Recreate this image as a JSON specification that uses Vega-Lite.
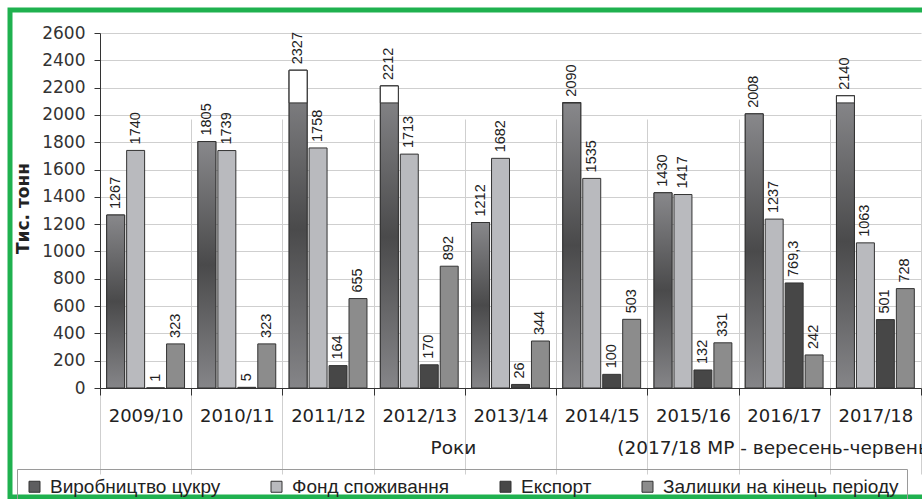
{
  "$schema": "https://vega.github.io/schema/vega-lite/v6.json",
  "autosize": "none",
  "width": 916,
  "height": 487,
  "padding": {"left": 10, "top": 10, "right": -4, "bottom": 2},
  "background": "white",
  "config": {
    "view": {"stroke": "#1fb14f", "strokeWidth": 5, "fill": "white"},
    "locale": {"number": {"decimal": ",", "thousands": " ", "grouping": [3], "currency": ["", ""]}}
  },
  "data": {
    "values": [
      {"year": "2009/10", "series": "Виробництво цукру", "value": 1267},
      {"year": "2009/10", "series": "Фонд споживання", "value": 1740},
      {"year": "2009/10", "series": "Експорт", "value": 1},
      {"year": "2009/10", "series": "Залишки на кінець періоду", "value": 323},
      {"year": "2010/11", "series": "Виробництво цукру", "value": 1805},
      {"year": "2010/11", "series": "Фонд споживання", "value": 1739},
      {"year": "2010/11", "series": "Експорт", "value": 5},
      {"year": "2010/11", "series": "Залишки на кінець періоду", "value": 323},
      {"year": "2011/12", "series": "Виробництво цукру", "value": 2327},
      {"year": "2011/12", "series": "Фонд споживання", "value": 1758},
      {"year": "2011/12", "series": "Експорт", "value": 164},
      {"year": "2011/12", "series": "Залишки на кінець періоду", "value": 655},
      {"year": "2012/13", "series": "Виробництво цукру", "value": 2212},
      {"year": "2012/13", "series": "Фонд споживання", "value": 1713},
      {"year": "2012/13", "series": "Експорт", "value": 170},
      {"year": "2012/13", "series": "Залишки на кінець періоду", "value": 892},
      {"year": "2013/14", "series": "Виробництво цукру", "value": 1212},
      {"year": "2013/14", "series": "Фонд споживання", "value": 1682},
      {"year": "2013/14", "series": "Експорт", "value": 26},
      {"year": "2013/14", "series": "Залишки на кінець періоду", "value": 344},
      {"year": "2014/15", "series": "Виробництво цукру", "value": 2090},
      {"year": "2014/15", "series": "Фонд споживання", "value": 1535},
      {"year": "2014/15", "series": "Експорт", "value": 100},
      {"year": "2014/15", "series": "Залишки на кінець періоду", "value": 503},
      {"year": "2015/16", "series": "Виробництво цукру", "value": 1430},
      {"year": "2015/16", "series": "Фонд споживання", "value": 1417},
      {"year": "2015/16", "series": "Експорт", "value": 132},
      {"year": "2015/16", "series": "Залишки на кінець періоду", "value": 331},
      {"year": "2016/17", "series": "Виробництво цукру", "value": 2008},
      {"year": "2016/17", "series": "Фонд споживання", "value": 1237},
      {"year": "2016/17", "series": "Експорт", "value": 769.3},
      {"year": "2016/17", "series": "Залишки на кінець періоду", "value": 242},
      {"year": "2017/18", "series": "Виробництво цукру", "value": 2140},
      {"year": "2017/18", "series": "Фонд споживання", "value": 1063},
      {"year": "2017/18", "series": "Експорт", "value": 501},
      {"year": "2017/18", "series": "Залишки на кінець періоду", "value": 728}
    ]
  },
  "encoding": {
    "x": {
      "field": "year", "type": "nominal", "sort": null,
      "scale": {"type": "band", "paddingInner": 0, "paddingOuter": 0, "range": [90, 911]},
      "axis": {
        "title": "Роки\u00a0\u00a0\u00a0\u00a0\u00a0\u00a0\u00a0\u00a0\u00a0\u00a0\u00a0\u00a0\u00a0\u00a0\u00a0\u00a0\u00a0\u00a0\u00a0\u00a0\u00a0\u00a0\u00a0\u00a0(2017/18 МР - вересень-червень)",
        "labelFont": "DejaVu Sans", "labelFontSize": 18, "labelColor": "#222", "labelAngle": 0,
        "tickBand": "extent", "grid": true, "gridColor": "#cfcfcf", "gridWidth": 1,
        "domainColor": "#333", "tickColor": "#333", "tickSize": 7, "labelPadding": 12,
        "offset": -109,
        "titleFont": "DejaVu Sans", "titleFontSize": 18.5, "titleFontWeight": "normal", "titleColor": "#222",
        "titleX": 420, "titleY": 65, "titleAlign": "left", "titleBaseline": "alphabetic", "titleAnchor": "start", "titleLimit": 1000
      }
    },
    "xOffset": {
      "field": "series", "type": "nominal",
      "sort": ["Виробництво цукру", "Фонд споживання", "Експорт", "Залишки на кінець періоду"],
      "scale": {"domain": ["Виробництво цукру", "Фонд споживання", "Експорт", "Залишки на кінець періоду"], "paddingInner": 0.1, "paddingOuter": 0.335}
    },
    "y": {
      "field": "value", "type": "quantitative",
      "scale": {"domain": [0, 2600], "range": [378, 23], "nice": false},
      "axis": {
        "values": [0, 200, 400, 600, 800, 1000, 1200, 1400, 1600, 1800, 2000, 2200, 2400, 2600],
        "format": "d",
        "title": "Тис. тонн", "titleFont": "DejaVu Sans", "titleFontSize": 17, "titleFontWeight": "bold", "titleColor": "#222",
        "titleAngle": 270, "titleX": -72, "titleY": 198, "titleAlign": "center", "titleBaseline": "alphabetic",
        "labelFont": "DejaVu Sans", "labelFontSize": 17, "labelColor": "#333",
        "grid": true, "gridColor": "#cfcfcf", "gridWidth": 1,
        "domainColor": "#333", "tickColor": "#333", "tickSize": 6, "labelPadding": 9,
        "offset": -90
      }
    }
  },
  "layer": [
    {
      "mark": {"type": "bar", "stroke": "#333", "strokeWidth": 1},
      "encoding": {
        "color": {
          "field": "series", "type": "nominal",
          "scale": {
            "domain": ["Виробництво цукру", "Фонд споживання", "Експорт", "Залишки на кінець періоду"],
            "range": ["#5e5e60", "#b9babe", "#474747", "#8c8c8c"]
          },
          "legend": {
            "orient": "none", "legendX": 7, "legendY": 459, "direction": "horizontal", "title": null,
            "padding": 8, "strokeColor": "#9a9a9a",
            "symbolType": "square", "symbolSize": 121, "symbolStrokeColor": "#333", "symbolStrokeWidth": 1, "symbolOpacity": 1,
            "labelFont": "Liberation Sans", "labelFontSize": 19, "labelColor": "#222", "labelOffset": 6,
            "columnPadding": 46, "labelLimit": 400
          }
        }
      }
    },
    {
      "transform": [{"filter": "datum.series === 'Виробництво цукру'"}],
      "mark": {
        "type": "bar", "stroke": "#333", "strokeWidth": 1,
        "fill": {"gradient": "linear", "x1": 0, "y1": 0, "x2": 0, "y2": 1,
          "stops": [{"offset": 0, "color": "#88888b"}, {"offset": 0.5, "color": "#4a4a4b"}, {"offset": 1, "color": "#858588"}]}
      }
    },
    {
      "transform": [{"filter": "datum.series === 'Виробництво цукру' && datum.value > 2088"}],
      "mark": {"type": "bar", "fill": "white", "stroke": "#333", "strokeWidth": 1},
      "encoding": {"y2": {"datum": 2088}}
    },
    {
      "mark": {"type": "text", "angle": 270, "align": "left", "baseline": "middle", "dx": 6, "font": "Liberation Sans", "fontSize": 14.5, "color": "#222"},
      "encoding": {"text": {"field": "value", "type": "quantitative", "format": ".6~g"}}
    }
  ]
}
